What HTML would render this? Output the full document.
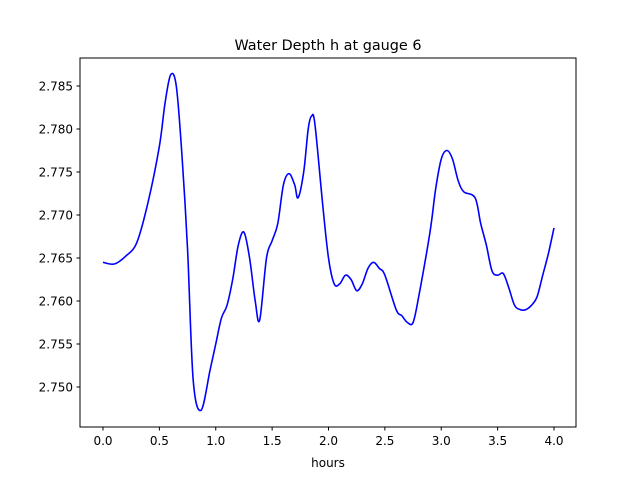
<!DOCTYPE html>
<html><head><meta charset="utf-8"><style>
body{margin:0;background:#fff;}
svg text{font-family:"DejaVu Sans","Liberation Sans",sans-serif;}
</style></head><body>
<svg id="chart" width="640" height="480" viewBox="0 0 640 480">
<rect width="640" height="480" fill="#fff"/>
<text x="328" y="50" font-size="14.4" text-anchor="middle">Water Depth h at gauge 6</text>
<g id="plot"></g>
<rect x="80" y="58" width="496" height="369" fill="none" stroke="#000" stroke-width="1"/>
<text x="328" y="467" font-size="12" text-anchor="middle">hours</text>
</svg>
<script>
const times=[0,0.1,0.2,0.3,0.4,0.5,0.55,0.6,0.65,0.7,0.75,0.8,0.87,0.95,1.0,1.05,1.1,1.15,1.2,1.25,1.3,1.35,1.39,1.45,1.5,1.55,1.6,1.65,1.7,1.73,1.78,1.82,1.85,1.88,1.95,2.0,2.05,2.1,2.15,2.2,2.25,2.3,2.35,2.4,2.45,2.5,2.6,2.65,2.7,2.75,2.8,2.9,2.95,3.0,3.05,3.1,3.15,3.2,3.3,3.35,3.4,3.45,3.5,3.55,3.6,3.65,3.7,3.75,3.8,3.85,3.9,3.95,4.0];
const depth=[2.7645,2.7643,2.7652,2.7668,2.7715,2.778,2.783,2.7863,2.785,2.777,2.766,2.7508,2.7473,2.752,2.755,2.758,2.7595,2.7625,2.7665,2.768,2.765,2.760,2.7578,2.765,2.767,2.769,2.7735,2.7748,2.7735,2.772,2.775,2.780,2.7815,2.7805,2.771,2.765,2.762,2.762,2.763,2.7625,2.7612,2.762,2.7638,2.7645,2.7638,2.763,2.759,2.7583,2.7575,2.7575,2.7605,2.768,2.773,2.7765,2.7775,2.7765,2.774,2.7727,2.772,2.769,2.7665,2.7635,2.763,2.7632,2.7615,2.7595,2.759,2.759,2.7595,2.7605,2.763,2.7655,2.7685];
const xTicks=[0,0.5,1,1.5,2,2.5,3,3.5,4];
const xTickLabels=["0.0","0.5","1.0","1.5","2.0","2.5","3.0","3.5","4.0"];
const yTicks=[2.750,2.755,2.760,2.765,2.770,2.775,2.780,2.785];
const yTickLabels=["2.750","2.755","2.760","2.765","2.770","2.775","2.780","2.785"];
const X=t=>103+t*112.75;
const Y=v=>387-(v-2.750)/0.005*43;
const g=document.getElementById('plot');
const NS='http://www.w3.org/2000/svg';
function mk(tag,attrs){const e=document.createElementNS(NS,tag);for(const k in attrs)e.setAttribute(k,attrs[k]);return e;}
xTicks.forEach((t,i)=>{
 const l=mk('line',{x1:X(t),x2:X(t),y1:427,y2:430.5,stroke:'#000'});
 
 
 g.appendChild(l);
 const tx=mk('text',{x:X(t),y:445,'font-size':12,'text-anchor':'middle'});
 tx.textContent=xTickLabels[i];
 
 
 g.appendChild(tx);
});
yTicks.forEach((v,i)=>{
 const l=mk('line',{x1:76.5,x2:80,y1:Y(v),y2:Y(v),stroke:'#000'});
 
 
 g.appendChild(l);
 const tx=mk('text',{x:73,y:Y(v)+4.3,'font-size':12,'text-anchor':'end'});
 tx.textContent=yTickLabels[i];
 
 
 g.appendChild(tx);
});
const P=times.map((t,i)=>[X(t),Y(depth[i])]);
let d='M'+P[0][0]+','+P[0][1];
for(let i=0;i<P.length-1;i++){
 const p0=P[Math.max(0,i-1)],p1=P[i],p2=P[i+1],p3=P[Math.min(P.length-1,i+2)];
 const c1=[p1[0]+(p2[0]-p0[0])/6,p1[1]+(p2[1]-p0[1])/6];
 const c2=[p2[0]-(p3[0]-p1[0])/6,p2[1]-(p3[1]-p1[1])/6];
 d+=' C'+c1[0]+','+c1[1]+' '+c2[0]+','+c2[1]+' '+p2[0]+','+p2[1];
}
const path=mk('path',{d:d,fill:'none',stroke:'#0000ff','stroke-width':1.6});


g.appendChild(path);
</script>
</body></html>
